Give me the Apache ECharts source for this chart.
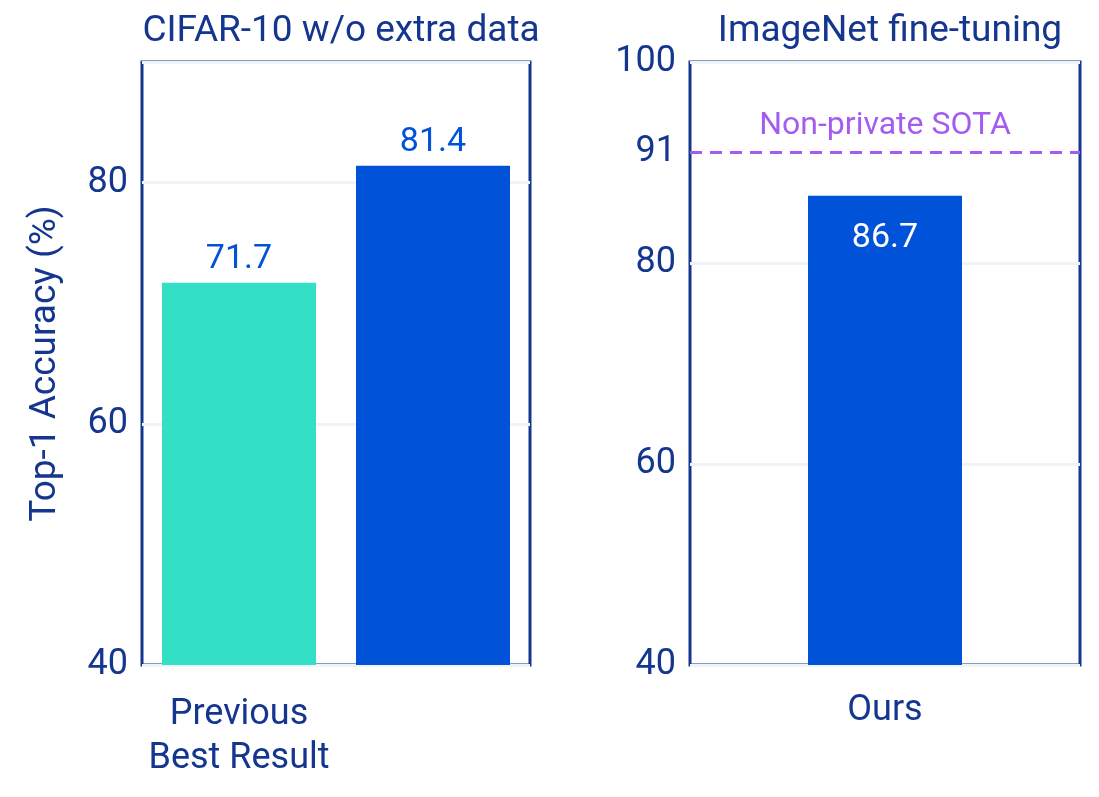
<!DOCTYPE html>
<html>
<head>
<meta charset="utf-8">
<script src="https://cdn.jsdelivr.net/npm/echarts@6/dist/echarts.min.js"></script>
<style>html,body{margin:0;background:#fff}#main{width:1099px;height:797px}</style>
</head>
<body>
<div id="main"></div>
<script>
var cifarCats = ['Previous\nBest Result', 'Ours'];
var cifarVals = [71.7, 81.4];
var cifarColors = ['#33e0c6', '#0052d9'];
var imagenetCats = ['Ours'];
var imagenetVals = [86.7];
var sotaValue = 91;
var rightTicks = [40, 60, 80, 91, 100];

var navy = '#14368f';
var font = '"Liberation Sans Narrow", "Roboto", sans-serif';
var chart = echarts.init(document.getElementById('main'));

var axisLine = {show: false};
var splitLine = {show: true, lineStyle: {color: '#eef5f4', width: 3}};

chart.setOption({
	textStyle: {fontFamily: font},
	title: [
		{text: 'CIFAR-10 w/o extra data', left: 336, top: 8, textAlign: 'center',
			textStyle: {fontFamily: font, fontSize: 37, fontWeight: 'normal', color: navy}},
		{text: 'ImageNet fine-tuning', left: 885, top: 8, textAlign: 'center',
			textStyle: {fontFamily: font, fontSize: 37, fontWeight: 'normal', color: navy}}
	],
	grid: [
		{left: 142, top: 62, width: 388, height: 603, show: true, borderColor: navy, borderWidth: 3},
		{left: 690, top: 62, width: 390, height: 603, show: true, borderColor: navy, borderWidth: 3}
	],
	xAxis: [
		{gridIndex: 0, type: 'category', data: cifarCats, axisLine: axisLine, axisTick: {show: false},
			axisLabel: {color: navy, fontSize: 36, fontFamily: font, lineHeight: 44, margin: 28}},
		{gridIndex: 1, type: 'category', data: imagenetCats, axisLine: axisLine, axisTick: {show: false},
			axisLabel: {color: navy, fontSize: 36, fontFamily: font, margin: 28}}
	],
	yAxis: [
		{gridIndex: 0, type: 'value', min: 40, max: 90, interval: 20, axisLine: axisLine, axisTick: {show: false},
			axisLabel: {color: navy, fontSize: 36, fontFamily: font, margin: 14, showMaxLabel: false},
			splitLine: splitLine,
			name: 'Top-1 Accuracy (%)', nameLocation: 'middle', nameGap: 78,
			nameTextStyle: {color: navy, fontSize: 37, fontFamily: font}},
		{gridIndex: 1, type: 'value', min: 40, max: 100, interval: 20, axisLine: axisLine, axisTick: {show: false},
			axisLabel: {color: navy, fontSize: 36, fontFamily: font, margin: 14, customValues: rightTicks},
			splitLine: splitLine}
	],
	series: [
		{type: 'bar', xAxisIndex: 0, yAxisIndex: 0, barWidth: 154,
			data: cifarVals.map(function (v, i) { return {value: v, itemStyle: {color: cifarColors[i]}}; }),
			label: {show: true, position: 'top', color: '#0052d9', fontSize: 34, fontFamily: font, distance: 6}},
		{type: 'bar', xAxisIndex: 1, yAxisIndex: 1, barWidth: 154, data: imagenetVals,
			itemStyle: {color: '#0052d9'},
			label: {show: true, position: 'insideTop', color: '#fff', fontSize: 34, fontFamily: font, distance: 26},
			markLine: {silent: true, symbol: 'none',
				lineStyle: {color: '#a45cf0', type: [12, 8], width: 3},
				label: {show: true, position: 'insideMiddleTop', formatter: 'Non-private SOTA',
					color: '#a45cf0', fontSize: 32, fontFamily: font, distance: 10},
				data: [{yAxis: sotaValue}]}}
	]
});
</script>
</body>
</html>
